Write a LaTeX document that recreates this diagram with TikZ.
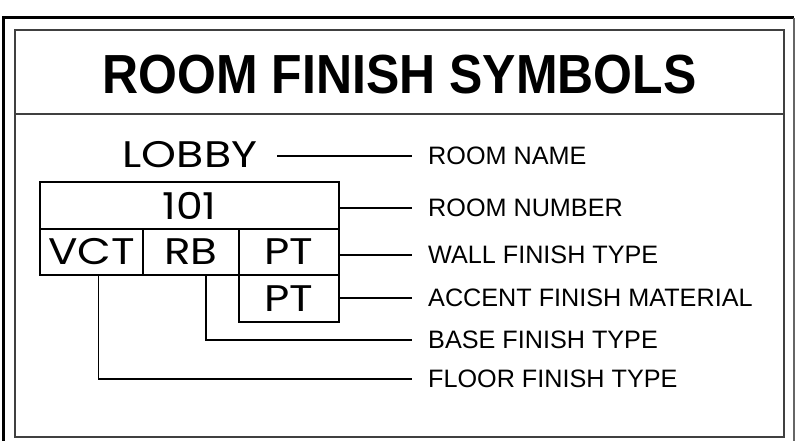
\documentclass[tikz,border=0pt]{standalone}
\usepackage{fontspec}
\usepackage{graphicx}
\setmainfont{Liberation Sans}
\newfontfamily\cadfont{Poppins}
\tikzset{
  frameouter/.style={line width=3pt, black},
  frameinner/.style={line width=1.8pt, black!75},
  titletext/.style={inner sep=0pt, font=\fontsize{54}{54}\selectfont\bfseries},
  cadtext/.style={inner sep=0pt, font=\cadfont\fontsize{37}{37}\selectfont},
  cell/.style={draw, line width=1.8pt, inner sep=0pt, font=\cadfont\fontsize{37}{37}\selectfont},
  lbl/.style={inner sep=0pt, anchor=west, font=\fontsize{25.2}{25.2}\selectfont},
  leader/.style={line width=1.5pt, black}
}
\begin{document}
\begin{tikzpicture}[x=1pt,y=-1pt]
\useasboundingbox (0,0) rectangle (796,441);
% frames
\draw[frameouter] (3,460) -- (3,18) -- (794,18);
\draw[line width=2pt, black!60] (794,18) -- (794,460);
\draw[frameinner] (15,30) rectangle (784,437);
\draw[frameinner] (15,114) -- (784,114);
\node[titletext] (title) at (399.5,74.5) {\scalebox{0.925}[1.02]{ROOM FINISH SYMBOLS}};
% symbol
\node[cadtext] (lobby) at (190,155) {\scalebox{1.2}[1]{LOBBY}};
\node[cell, minimum width=299pt, minimum height=47pt] (num) at (189.5,205.5) {\scalebox{1.15}[1]{101}};
\node[cell, minimum width=103pt, minimum height=46pt] (vct) at (91.5,252) {\scalebox{1.18}[1]{VCT}};
\node[cell, minimum width=96pt, minimum height=46pt] (rb) at (191,252) {\scalebox{1.18}[1]{RB}};
\node[cell, minimum width=100pt, minimum height=46pt] (pt1) at (289,252) {\scalebox{1.18}[1]{PT}};
\node[cell, minimum width=100pt, minimum height=47pt] (pt2) at (289,298.5) {\scalebox{1.18}[1]{PT}};
% labels
\node[lbl] (lname) at (428,156) {ROOM NAME};
\node[lbl] (lnum) at (428,208) {ROOM NUMBER};
\node[lbl] (lwall) at (428,255) {WALL FINISH TYPE};
\node[lbl] (lacc) at (428,298) {ACCENT FINISH MATERIAL};
\node[lbl] (lbase) at (428,340) {BASE FINISH TYPE};
\node[lbl] (lfloor) at (428,379) {FLOOR FINISH TYPE};
% leaders
\draw[leader] ([xshift=20pt]lobby.east |- lname) -- ([xshift=-16pt]lname.west);
\draw[leader] (num.east |- lnum) -- ([xshift=-16pt]lnum.west);
\draw[leader] (pt1.east |- lwall) -- ([xshift=-16pt]lwall.west);
\draw[leader] (pt2.east |- lacc) -- ([xshift=-16pt]lacc.west);
\draw[leader] ([xshift=15pt]rb.south) |- ([xshift=-16pt]lbase.west);
\draw[leader] ([xshift=7pt]vct.south) |- ([xshift=-16pt]lfloor.west);
\end{tikzpicture}
\end{document}
